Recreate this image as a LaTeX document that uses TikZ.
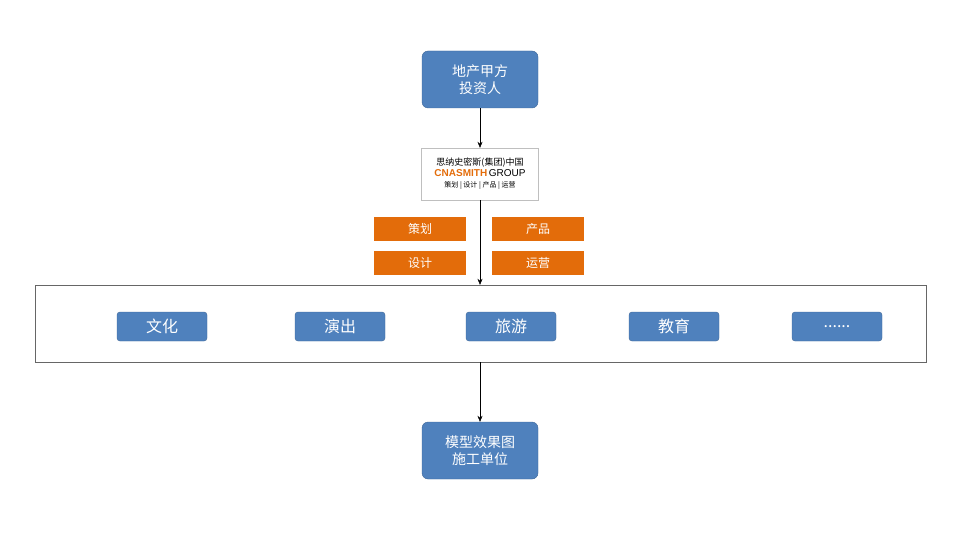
\documentclass[tikz,border=0pt]{standalone}
\usepackage{fontspec}
\setmainfont{Noto Sans CJK SC}
\usetikzlibrary{arrows.meta}
\definecolor{bl}{HTML}{4F81BD}
\definecolor{og}{HTML}{E36C0A}
\tikzset{x=1pt,y=-1pt,
 big/.style={draw=bl!80!black,fill=bl,rounded corners=6pt,minimum width=116pt,minimum height=57pt,text=white,font=\fontsize{14}{17}\selectfont,align=center},
 sm/.style={draw=bl!80!black,fill=bl,rounded corners=3pt,minimum width=90pt,minimum height=29pt,text=white,font=\fontsize{16}{18}\selectfont},
 og/.style={fill=og,minimum width=92pt,minimum height=24pt,text=white,font=\fontsize{12}{14}\selectfont},
 arr/.style={-{Stealth[length=6pt,width=5pt]},black}}
\begin{document}
\begin{tikzpicture}
\useasboundingbox (0,0) rectangle (960,540);
\node[big] (top) at (480,79.5) {地产甲方\\投资人};
\node[draw=black!25,minimum width=117pt,minimum height=52pt,align=center,inner sep=1pt] (logo) at (480,174)
 {\fontsize{9}{10}\selectfont 思纳史密斯(集团)中国\\[-1pt]
  {\fontsize{10}{11}\selectfont\fontspec{Liberation Sans}\textbf{\color{og}CNASMITH}\,GROUP}\\[-1pt]
  \fontsize{7}{8}\selectfont 策划 | 设计 | 产品 | 运营};
\node[og] (o1) at (420,229) {策划};
\node[og] (o2) at (420,263) {设计};
\node[og] (o3) at (538,229) {产品};
\node[og] (o4) at (538,263) {运营};
\node[draw=black!60,minimum width=891pt,minimum height=77pt] (box) at (480.5,323.5) {};
\node[sm] (s1) at (162,326.5) {文化};
\node[sm] (s2) at (340,326.5) {演出};
\node[sm] (s3) at (511,326.5) {旅游};
\node[sm] (s4) at (674,326.5) {教育};
\node[sm] (s5) at (837,326.5) {......};
\node[big] (bot) at (480,450.5) {模型效果图\\施工单位};
\draw[arr] (top) -- (logo);
\draw[arr] (logo) -- (box.north -| logo);
\draw[arr] (box.south -| bot) -- (bot);
\end{tikzpicture}
\end{document}
